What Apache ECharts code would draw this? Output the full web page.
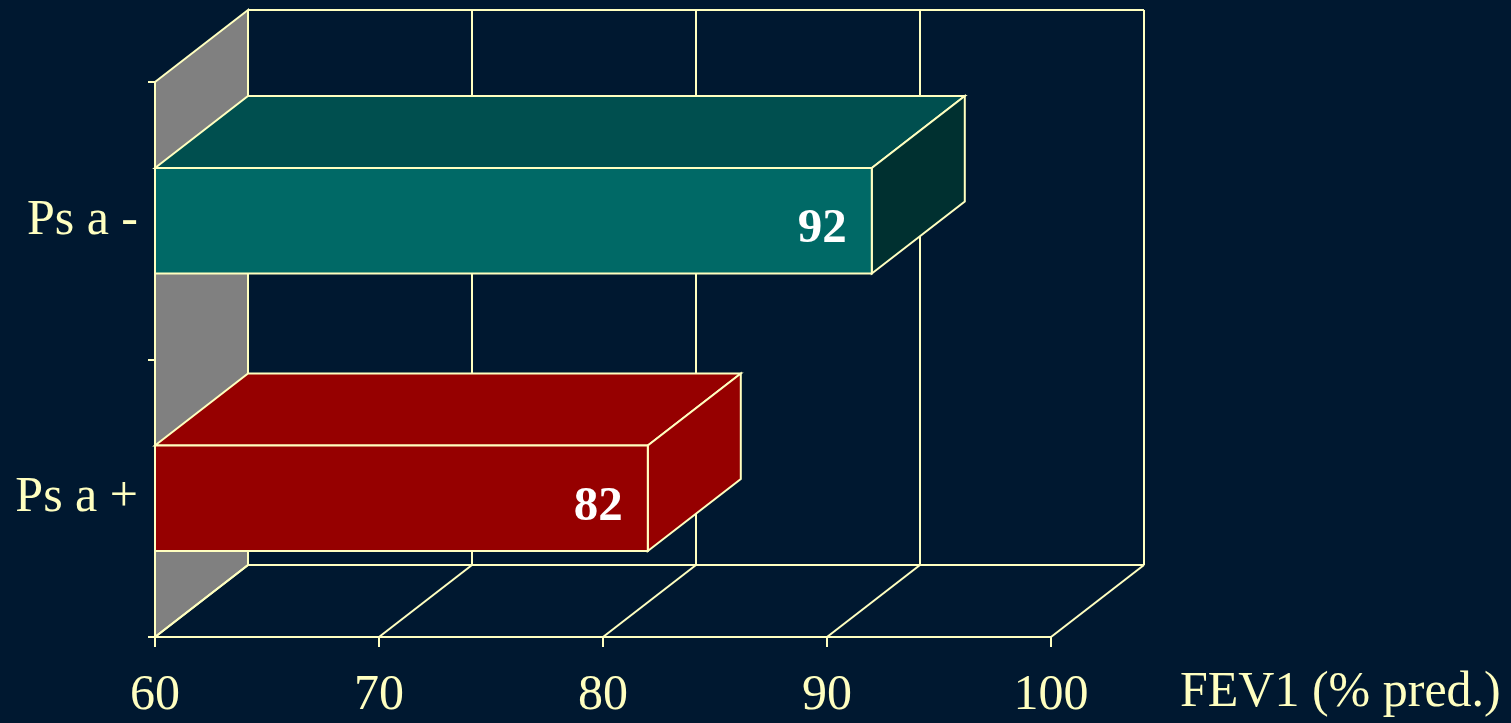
<!DOCTYPE html>
<html>
<head>
<meta charset="utf-8">
<script src="https://cdn.jsdelivr.net/npm/echarts@6/dist/echarts.min.js"></script>
<style>
  html, body { margin: 0; padding: 0; background: #001830; }
  #chart { width: 1511px; height: 723px; }
</style>
</head>
<body>
<div id="chart"></div>
<script>
// data
const categories = ["Ps a +", "Ps a -"];
const fev1Values = [82, 92];
const xTicks = [60, 70, 80, 90, 100];
const xTitle = "FEV1 (% pred.)";

// look
const LINE = "#FFFFC0";
const FONT = '"Liberation Serif", "Times New Roman", serif';
const DX = 93;   // depth offset of the 3d box
const DY = -72;
const faceColors = [
  { front: "#960000", top: "#960000", side: "#960000" },
  { front: "#006966", top: "#004F4F", side: "#003030" },
];

const chart = echarts.init(document.getElementById("chart"));

// back wall, left wall and floor
function renderWalls(params, api) {
  const cs = params.coordSys;
  const x = api.coord([api.value(0), 0])[0];
  const top = cs.y;
  const bottom = cs.y + cs.height;
  const lineStyle = { stroke: LINE, lineWidth: 2 };
  const children = [];

  if (params.dataIndex === 0) {
    const xEnd = cs.x + cs.width;
    children.push({
      type: "polygon",
      shape: { points: [[x, top], [x + DX, top + DY], [x + DX, bottom + DY], [x, bottom]] },
      style: { fill: "#808080", stroke: LINE, lineWidth: 2 },
    });
    children.push({
      type: "line",
      shape: { x1: x + DX, y1: top + DY, x2: xEnd + DX, y2: top + DY },
      style: lineStyle,
    });
    children.push({
      type: "line",
      shape: { x1: x + DX, y1: bottom + DY, x2: xEnd + DX, y2: bottom + DY },
      style: lineStyle,
    });
  }
  children.push({
    type: "line",
    shape: { x1: x, y1: bottom, x2: x + DX, y2: bottom + DY },
    style: lineStyle,
  });
  children.push({
    type: "line",
    shape: { x1: x + DX, y1: top + DY, x2: x + DX, y2: bottom + DY },
    style: lineStyle,
  });
  return { type: "group", children: children };
}

// 3d bars
function renderBar(params, api) {
  const idx = api.value(1);
  const v = api.value(0);
  const start = api.coord([60, idx]);
  const end = api.coord([v, idx]);
  const h = api.size([0, 1])[1] * 0.38;
  const x0 = start[0], x1 = end[0];
  const y0 = end[1] - h / 2, y1 = end[1] + h / 2;
  const c = faceColors[idx];
  const st = (fill) => ({ fill: fill, stroke: LINE, lineWidth: 2 });
  return {
    type: "group",
    children: [
      {
        type: "polygon",
        shape: { points: [[x0, y0], [x0 + DX, y0 + DY], [x1 + DX, y0 + DY], [x1, y0]] },
        style: st(c.top),
      },
      {
        type: "polygon",
        shape: { points: [[x1, y0], [x1 + DX, y0 + DY], [x1 + DX, y1 + DY], [x1, y1]] },
        style: st(c.side),
      },
      {
        type: "rect",
        shape: { x: x0, y: y0, width: x1 - x0, height: y1 - y0 },
        style: st(c.front),
      },
      {
        type: "text",
        x: x1 - 25,
        y: end[1] + 9,
        style: {
          text: String(v),
          align: "right",
          verticalAlign: "middle",
          fill: "#FFFFFF",
          font: "bold 49px " + FONT,
        },
      },
    ],
  };
}

const option = {
  backgroundColor: "#001830",
  animation: false,
  title: {
    text: xTitle,
    left: 1180,
    top: 668,
    padding: 0,
    textStyle: { color: LINE, fontFamily: FONT, fontSize: 50, fontWeight: "normal" },
  },
  grid: { left: 155, right: 460, top: 82, bottom: 86 },
  xAxis: {
    type: "value",
    min: 60,
    max: 100,
    interval: 10,
    axisLine: { show: true, lineStyle: { color: LINE, width: 2 } },
    axisTick: { show: true, length: 10, lineStyle: { color: LINE, width: 2 } },
    axisLabel: { color: LINE, fontFamily: FONT, fontSize: 50, margin: 34 },
    splitLine: { show: false },
  },
  yAxis: {
    type: "category",
    data: categories,
    axisLine: { show: true, lineStyle: { color: LINE, width: 2 } },
    axisTick: { show: true, length: 7, lineStyle: { color: LINE, width: 2 } },
    axisLabel: { color: LINE, fontFamily: FONT, fontSize: 50, margin: 17 },
    splitLine: { show: false },
  },
  series: [
    {
      type: "custom",
      renderItem: renderWalls,
      data: xTicks.map((v) => [v, 0]),
      encode: { x: 0, y: 1 },
      z: 1,
      silent: true,
    },
    {
      type: "custom",
      renderItem: renderBar,
      data: fev1Values.map((v, i) => [v, i]),
      encode: { x: 0, y: 1 },
      z: 3,
    },
  ],
};

chart.setOption(option);
</script>
</body>
</html>
